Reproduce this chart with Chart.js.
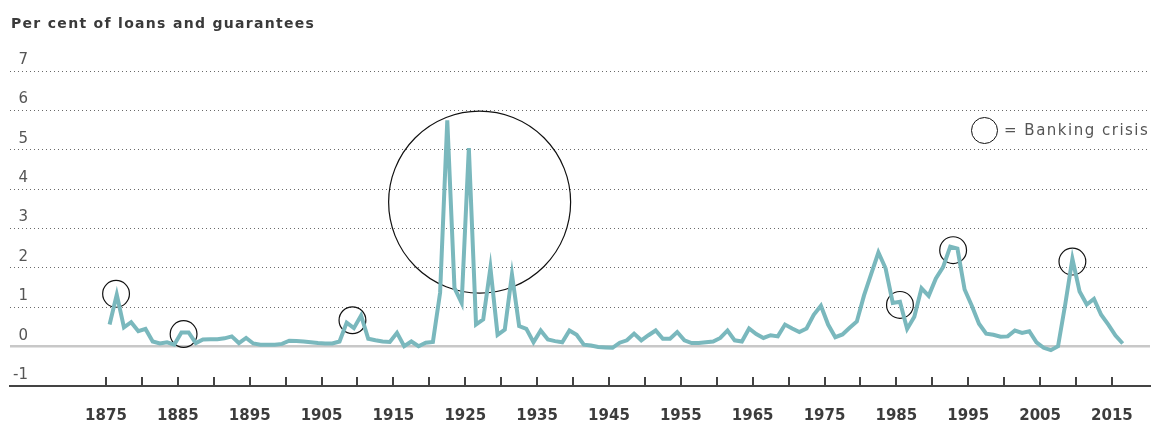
<!DOCTYPE html>
<html>
<head>
<meta charset="utf-8">
<script src="https://cdn.jsdelivr.net/npm/chart.js@4.4.0/dist/chart.umd.min.js"></script>
<style>
  html, body { margin: 0; padding: 0; background: #fff; }
  #wrap { position: relative; width: 1152px; height: 421px; overflow: hidden; }
  #chart { position: absolute; left: 0; top: 0; }
  #title { position: absolute; left: 11px; top: 16px; font: bold 14px/14px "DejaVu Sans", sans-serif;
           letter-spacing: 1.3px; color: #3a3a3a; white-space: nowrap; }
  #legCircle { position: absolute; left: 970.5px; top: 116.6px; width: 27.4px; height: 27.4px;
               box-sizing: border-box; border: 1.3px solid #111; border-radius: 50%; }
  #legText { position: absolute; left: 1004px; top: 123.3px; font: 15px/15px "DejaVu Sans", sans-serif;
             letter-spacing: 1.5px; color: #555; white-space: nowrap; }
</style>
</head>
<body>
<div id="wrap">
  <canvas id="chart" width="1152" height="421"></canvas>
  <div id="title">Per cent of loans and guarantees</div>
  <div id="legCircle"></div>
  <div id="legText">= Banking crisis</div>
</div>
<script>
// ---- data ----
const firstYear = 1875;
const lossPct = [
  0.56, 1.32, 0.49, 0.62, 0.39, 0.45, 0.13, 0.08, 0.11, 0.05,   // 1875-1884
  0.36, 0.36, 0.09, 0.18, 0.19, 0.19, 0.21, 0.26, 0.09, 0.22,   // 1885-1894
  0.08, 0.05, 0.05, 0.05, 0.07, 0.15, 0.14, 0.13, 0.11, 0.09,   // 1895-1904
  0.08, 0.08, 0.13, 0.61, 0.47, 0.79, 0.20, 0.16, 0.13, 0.12,   // 1905-1914
  0.35, 0.01, 0.13, 0.01, 0.10, 0.12, 1.37, 5.75, 1.49, 1.11,   // 1915-1924
  5.04, 0.56, 0.69, 2.00, 0.30, 0.43, 1.83, 0.52, 0.45, 0.11,   // 1925-1934
  0.41, 0.18, 0.14, 0.11, 0.41, 0.30, 0.05, 0.03, -0.01, -0.02, // 1935-1944
  -0.03, 0.10, 0.16, 0.33, 0.16, 0.29, 0.41, 0.20, 0.20, 0.37,  // 1945-1954
  0.16, 0.09, 0.09, 0.11, 0.13, 0.22, 0.41, 0.16, 0.13, 0.46,   // 1955-1964
  0.32, 0.22, 0.29, 0.26, 0.56, 0.46, 0.37, 0.46, 0.81, 1.04,   // 1965-1974
  0.56, 0.24, 0.31, 0.48, 0.64, 1.30, 1.85, 2.39, 1.99, 1.11,   // 1975-1984
  1.14, 0.45, 0.76, 1.48, 1.29, 1.73, 2.02, 2.54, 2.49, 1.45,   // 1985-1994
  1.04, 0.58, 0.33, 0.30, 0.25, 0.26, 0.41, 0.35, 0.39, 0.11,   // 1995-2004
  -0.03, -0.09, 0.01, 1.07, 2.23, 1.40, 1.07, 1.21, 0.81, 0.56, // 2005-2014
  0.28, 0.08                                                    // 2015-2016
];
// banking-crisis markers (year position, level)
const crisisYears  = [1876.4, 1885.8, 1909.3, 1927.0, 1985.5, 1992.9, 2009.5];
const crisisLevels = [1.34, 0.32, 0.67, 3.67, 1.06, 2.45, 2.16];
// axes
const xTickYears  = [1875,1880,1885,1890,1895,1900,1905,1910,1915,1920,1925,1930,1935,1940,
                     1945,1950,1955,1960,1965,1970,1975,1980,1985,1990,1995,2000,2005,2010,2015];
const xTickLabels = ['1875','1885','1895','1905','1915','1925','1935','1945','1955','1965',
                     '1975','1985','1995','2005','2015'];
const yTickValues = [-1, 0, 1, 2, 3, 4, 5, 6, 7];
const yTickLabels = ['-1', '0', '1', '2', '3', '4', '5', '6', '7'];

// ---- chart ----
const linePoints = lossPct.map((v, i) => ({ x: firstYear + i + 0.5, y: v }));
const crisisPoints = crisisYears.map((x, i) => ({ x: x, y: crisisLevels[i] }));

// tick marks pointing up from the x axis, placed by the x scale
const upTicks = {
  id: 'upTicks',
  afterDraw(chart) {
    const s = chart.scales.x;
    const ctx = chart.ctx;
    const base = chart.chartArea.bottom;
    ctx.save();
    ctx.strokeStyle = '#444';
    ctx.lineWidth = 2;
    s.ticks.forEach((t) => {
      const px = Math.round(s.getPixelForValue(t.value));
      ctx.beginPath();
      ctx.moveTo(px, base);
      ctx.lineTo(px, base - 9);
      ctx.stroke();
    });
    ctx.restore();
  }
};

new Chart(document.getElementById('chart'), {
  type: 'line',
  data: {
    datasets: [
      {
        type: 'line',
        data: linePoints,
        borderColor: '#7ab8bd',
        borderWidth: 4,
        pointRadius: 0,
        tension: 0,
        fill: false,
        order: 0
      },
      {
        type: 'scatter',
        data: crisisPoints,
        showLine: false,
        borderColor: '#111',
        borderWidth: 1.2,
        backgroundColor: 'rgba(0,0,0,0)',
        pointStyle: 'circle',
        pointRadius: (c) => (c.dataIndex === 3 ? 91 : 13.4),
        pointHoverRadius: (c) => (c.dataIndex === 3 ? 91 : 13.4),
        clip: false,
        order: 1
      }
    ]
  },
  options: {
    responsive: false,
    animation: false,
    events: [],
    layout: { autoPadding: false, padding: { left: 10, right: 2, top: 71, bottom: 0 } },
    plugins: { legend: { display: false }, tooltip: { enabled: false }, title: { display: false } },
    scales: {
      x: {
        type: 'linear',
        min: 1861.64,
        max: 2020.3,
        afterBuildTicks: (s) => { s.ticks = xTickYears.map((v) => ({ value: v })); },
        afterFit: (s) => { s.height = 35; },
        grid: { display: false, drawOnChartArea: false, drawTicks: false },
        border: { display: true, color: '#444', width: 2 },
        ticks: {
          autoSkip: false, maxRotation: 0, padding: 18,
          color: '#3c3c3c',
          font: { family: 'DejaVu Sans', size: 15, weight: 'bold', lineHeight: 1.67 },
          callback: (v) => (xTickLabels.includes(String(v)) ? String(v) : '')
        }
      },
      y: {
        type: 'linear',
        min: -1,
        max: 7,
        afterBuildTicks: (s) => { s.ticks = yTickValues.map((v) => ({ value: v })); },
        afterFit: (s) => { s.width = 0; },
        grid: {
          drawTicks: false,
          color: (c) => (c.tick && c.tick.value === 0 ? '#c8c8c8' : (c.tick && c.tick.value === -1 ? 'rgba(0,0,0,0)' : '#6a6a6a')),
          lineWidth: (c) => (c.tick && c.tick.value === 0 ? 2.5 : 1)
        },
        border: {
          display: false,
          dash: (c) => (c.tick && c.tick.value === 0 ? [] : [1, 3])
        },
        ticks: {
          mirror: true, crossAlign: 'far', padding: 3, labelOffset: -11,
          color: '#555',
          font: { family: 'DejaVu Sans', size: 15 },
          callback: (v) => yTickLabels[yTickValues.indexOf(v)]
        }
      }
    }
  },
  plugins: [upTicks]
});
</script>
</body>
</html>
